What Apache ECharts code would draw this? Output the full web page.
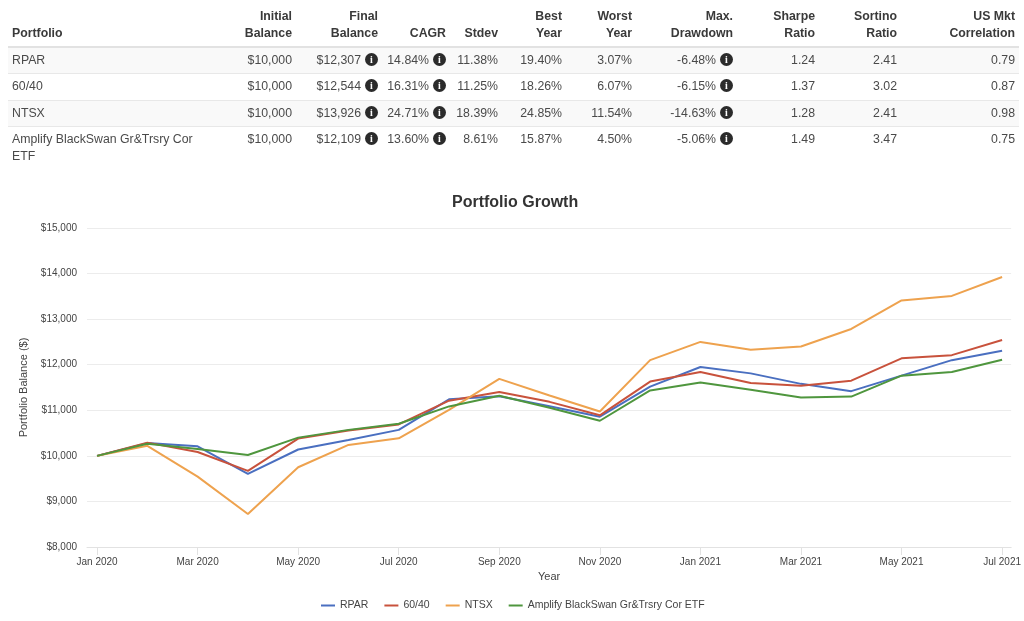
<!DOCTYPE html>
<html>
<head>
<meta charset="utf-8">
<title>Portfolio Growth</title>
<script src="https://cdn.jsdelivr.net/npm/echarts@6/dist/echarts.min.js"></script>
<style>
  html, body { margin: 0; padding: 0; background: #fff; }
  #chart { position: absolute; left: 0; top: 0; width: 1024px; height: 621px; }
  #stats { position: absolute; left: 8px; top: 0; width: 1011px; border-collapse: collapse; table-layout: fixed;
    font: 12.3px/17px "Liberation Sans", Arial, sans-serif; color: #4a4a4a; }
  #stats th { height: 42px; padding: 0 4px 4px 0; vertical-align: bottom; text-align: right; font-weight: bold; color: #3a3a3a;
    border-bottom: 2px solid #e2e2e2; line-height: 17px; }
  #stats td { height: 25.33px; padding: 0 4px 0 0; text-align: right; vertical-align: middle; border-bottom: 1px solid #e8e8e8; }
  #stats th:first-child, #stats td:first-child { text-align: left; padding-left: 4px; }
  #stats tr.odd td { background: #f9f9f9; }
  #stats tr:last-child td { border-bottom: none; vertical-align: top; padding-top: 4px; height: 38px; }
  .info { display: inline-block; width: 13px; height: 13px; margin-left: 4px; border-radius: 50%; background: #2b2b2b; color: #fff;
    font: bold 10px/13px "Liberation Serif", serif; text-align: center; vertical-align: 1px; }
</style>
</head>
<body>
<div id="chart"></div>
<table id="stats"></table>
<script>
  var months = ['Jan 2020', 'Feb 2020', 'Mar 2020', 'Apr 2020', 'May 2020', 'Jun 2020', 'Jul 2020', 'Aug 2020', 'Sep 2020', 'Oct 2020',
    'Nov 2020', 'Dec 2020', 'Jan 2021', 'Feb 2021', 'Mar 2021', 'Apr 2021', 'May 2021', 'Jun 2021', 'Jul 2021'];
  var rpar = [10000, 10280, 10210, 9605, 10140, 10350, 10570, 11240, 11310, 11090, 10860, 11520, 11950, 11810, 11580, 11420, 11760, 12100, 12307];
  var sixtyForty = [10000, 10290, 10085, 9670, 10380, 10555, 10690, 11210, 11400, 11185, 10890, 11630, 11840, 11600, 11540, 11650, 12140, 12210, 12544];
  var ntsx = [10000, 10220, 9545, 8725, 9750, 10240, 10385, 11010, 11690, 11325, 10975, 12100, 12500, 12330, 12400, 12785, 13410, 13510, 13926];
  var amplify = [10000, 10265, 10150, 10020, 10400, 10570, 10705, 11085, 11320, 11055, 10770, 11435, 11610, 11450, 11280, 11300, 11760, 11840, 12109];

  var tableHead = ['Portfolio', 'Initial<br>Balance', 'Final<br>Balance', 'CAGR', 'Stdev', 'Best<br>Year', 'Worst<br>Year', 'Max.<br>Drawdown', 'Sharpe<br>Ratio', 'Sortino<br>Ratio', 'US Mkt<br>Correlation'];
  var columnWidths = [288, 86, 68, 52, 64, 70, 101, 82, 82, 118];
  var infoColumns = [2, 3, 7];
  var tableRows = [
    ['RPAR', '$10,000', '$12,307', '14.84%', '11.38%', '19.40%', '3.07%', '-6.48%', '1.24', '2.41', '0.79'],
    ['60/40', '$10,000', '$12,544', '16.31%', '11.25%', '18.26%', '6.07%', '-6.15%', '1.37', '3.02', '0.87'],
    ['NTSX', '$10,000', '$13,926', '24.71%', '18.39%', '24.85%', '11.54%', '-14.63%', '1.28', '2.41', '0.98'],
    ['Amplify BlackSwan Gr&amp;Trsry Cor<br>ETF', '$10,000', '$12,109', '13.60%', '8.61%', '15.87%', '4.50%', '-5.06%', '1.49', '3.47', '0.75']
  ];

  function renderTable() {
    var html = '<colgroup><col style="width:' + (columnWidths[0] - 88) + 'px"><col style="width:88px">';
    columnWidths.slice(1).forEach(function (w) { html += '<col style="width:' + w + 'px">'; });
    html += '</colgroup><tr>';
    tableHead.forEach(function (h) { html += '<th>' + h + '</th>'; });
    html += '</tr>';
    tableRows.forEach(function (row, r) {
      html += '<tr class="' + (r % 2 ? 'even' : 'odd') + '">';
      row.forEach(function (cell, c) {
        html += '<td>' + cell + (infoColumns.indexOf(c) >= 0 ? '<span class="info">i</span>' : '') + '</td>';
      });
      html += '</tr>';
    });
    document.getElementById('stats').innerHTML = html;
  }

  function pairs(values) {
    return values.map(function (v, i) { return [i, v]; });
  }

  function lineSeries(name, values, color) {
    return { name: name, type: 'line', data: pairs(values), symbol: 'none', lineStyle: { width: 2, color: color }, itemStyle: { color: color } };
  }

  var tickIndexes = months.map(function (m, i) { return i; }).filter(function (i) { return i % 2 === 0; });

  renderTable();
  var chart = echarts.init(document.getElementById('chart'), null, { renderer: 'canvas' });
  chart.setOption({
    animation: false,
    textStyle: { fontFamily: '"Liberation Sans", Arial, sans-serif' },
    title: {
      text: 'Portfolio Growth', left: 447, top: 190,
      textStyle: { fontSize: 16, fontWeight: 'bold', color: '#333' }
    },
    legend: {
      left: 316, top: 595, itemWidth: 14, itemHeight: 2, itemGap: 16, icon: 'rect',
      textStyle: { fontSize: 10.5, color: '#444' },
      data: ['RPAR', '60/40', 'NTSX', 'Amplify BlackSwan Gr&Trsry Cor ETF']
    },
    grid: { left: 87, right: 12, top: 228, bottom: 74 },
    xAxis: {
      type: 'value', min: -0.2, max: 18.18, name: 'Year', nameLocation: 'middle', nameGap: 24,
      nameTextStyle: { fontSize: 11, color: '#444' },
      splitLine: { show: false },
      axisLine: { lineStyle: { color: '#e2e2e2', width: 1 } },
      axisTick: { show: true, length: 8, customValues: tickIndexes, lineStyle: { color: '#e2e2e2' } },
      axisLabel: {
        customValues: tickIndexes, fontSize: 10, color: '#444', margin: 10, hideOverlap: false,
        formatter: function (v) { return months[Math.round(v)]; }
      }
    },
    yAxis: {
      type: 'value', min: 8000, max: 15000, interval: 1000, name: 'Portfolio Balance ($)', nameLocation: 'middle', nameGap: 55,
      nameTextStyle: { fontSize: 11, color: '#444' },
      axisLine: { show: false }, axisTick: { show: false },
      splitLine: { lineStyle: { color: '#ececec', width: 1 } },
      axisLabel: {
        fontSize: 10, color: '#444', margin: 10,
        formatter: function (v) { return '$' + String(v).replace(/(\d)(\d{3})$/, '$1,$2'); }
      }
    },
    series: [
      lineSeries('RPAR', rpar, '#4a6fc0'),
      lineSeries('60/40', sixtyForty, '#c8523c'),
      lineSeries('NTSX', ntsx, '#eea24e'),
      lineSeries('Amplify BlackSwan Gr&Trsry Cor ETF', amplify, '#4f963e')
    ]
  });
</script>
</body>
</html>
